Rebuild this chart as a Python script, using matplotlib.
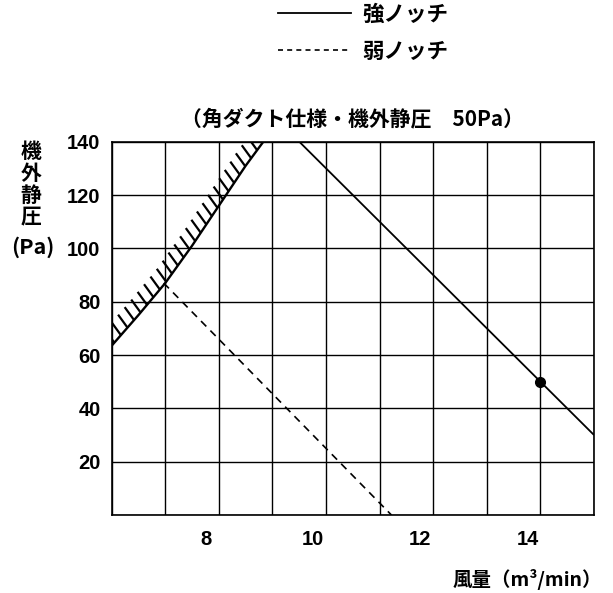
import numpy as np
import matplotlib
matplotlib.use('Agg')
import matplotlib.pyplot as plt
from matplotlib.lines import Line2D
from matplotlib.transforms import ScaledTranslation

plt.rcParams['font.family'] = ['Liberation Sans', 'Noto Sans CJK JP', 'DejaVu Sans']

# ---- data ----
strong_x = [9.5, 15.0]
strong_y = [140, 30]
weak_x = [6.97, 11.22]
weak_y = [87, 0]
limit_x = [6.0, 6.5, 7.0, 7.5, 8.0, 8.5, 8.83]
limit_y = [63.5, 75, 87, 101, 116, 131, 140]
point_x = [14]
point_y = [50]
x_grid = list(range(6, 16))
x_labeled = [8, 10, 12, 14]
y_grid = list(range(0, 141, 20))
y_labeled = [20, 40, 60, 80, 100, 120, 140]
legend_labels = ['強ノッチ', '弱ノッチ']
title = '（角ダクト仕様・機外静圧\u300050Pa）'
ylabel_chars = '機外静圧'
ylabel_unit = '(Pa)'
xlabel = '風量（m³/min）'

W, H = 613, 593
fig = plt.figure(figsize=(W / 100, H / 100), dpi=100)
ax = fig.add_axes([111.7 / W, 1 - 515 / H, (594 - 111.7) / W, (515 - 141.7) / H])
ax.set_xlim(6, 15)
ax.set_ylim(0, 140)

ax.set_xticks(x_grid)
ax.set_xticklabels([str(v) if v in x_labeled else '' for v in x_grid])
ax.set_yticks(y_grid)
ax.set_yticklabels([str(v) if v in y_labeled else '' for v in y_grid])
ax.tick_params(length=0, labelsize=14.5)
ax.tick_params(axis='y', pad=8)
ax.tick_params(axis='x', pad=11)
for lab in ax.get_xticklabels():
    lab.set_fontweight('bold')
    lab.set_transform(lab.get_transform() + ScaledTranslation(-13 / 100, 0, fig.dpi_scale_trans))
for lab in ax.get_yticklabels():
    lab.set_fontweight('bold')

ax.grid(True, color='black', linewidth=1.0)
ax.set_axisbelow(True)
for s in ax.spines.values():
    s.set_linewidth(1.2)
    s.set_color('black')

# lines
ax.plot(strong_x, strong_y, color='black', linewidth=1.3, solid_capstyle='butt')
ax.plot(weak_x, weak_y, color='black', linewidth=1.2, linestyle=(0, (4.5, 3.5)))
ax.plot(limit_x, limit_y, color='black', linewidth=1.7)
ax.plot(point_x, point_y, 'o', color='black', markersize=7)

# hatch strokes on the upper-left side of the limit curve
pts = ax.transData.transform(np.column_stack([limit_x, limit_y]))
seg = np.diff(pts, axis=0)
seglen = np.hypot(seg[:, 0], seg[:, 1])
cum = np.concatenate([[0], np.cumsum(seglen)])
spacing = 10.0
L = 16.0
ang = np.deg2rad(126)
off = np.array([np.cos(ang), np.sin(ang)]) * L
s = 4.0
while s < cum[-1] + 2:
    i = np.searchsorted(cum, s) - 1
    i = max(0, min(i, len(seg) - 1))
    t = (s - cum[i]) / seglen[i]
    p = pts[i] + seg[i] * t
    q = p + off
    d = ax.transData.inverted().transform(np.vstack([p, q]))
    ax.plot(d[:, 0], d[:, 1], color='black', linewidth=1.6, solid_capstyle='butt')
    s += spacing

# title
ax.set_title(title, fontsize=15, fontweight='bold', pad=12,
             family=['Noto Sans CJK JP', 'Liberation Sans'])

# y label (vertical characters)
for k, ch in enumerate(ylabel_chars):
    fig.text(31 / W, 1 - (152 + k * 21.5) / H, ch, fontsize=15, fontweight='bold',
             ha='center', va='center', family=['Noto Sans CJK JP'])
fig.text(33 / W, 1 - 247 / H, ylabel_unit, fontsize=15.5, fontweight='bold',
         ha='center', va='center', family=['Noto Sans CJK JP', 'Liberation Sans'])

# x label
fig.text(602 / W, 1 - 580 / H, xlabel, fontsize=14, fontweight='bold',
         ha='right', va='center', family=['Noto Sans CJK JP', 'Liberation Sans'])

# legend
handles = [Line2D([], [], color='black', linewidth=1.3),
           Line2D([], [], color='black', linewidth=1.2, linestyle=(0, (3, 2.5)))]
leg = fig.legend(handles, legend_labels, loc='upper left',
                 bbox_to_anchor=(278 / W, 1 - 4 / H), frameon=False,
                 handlelength=3.4, handletextpad=0.5, labelspacing=0.72,
                 borderpad=0, borderaxespad=0,
                 prop={'family': ['Noto Sans CJK JP'], 'size': 15.5, 'weight': 'bold'})

fig.savefig('out.png', dpi=100)
